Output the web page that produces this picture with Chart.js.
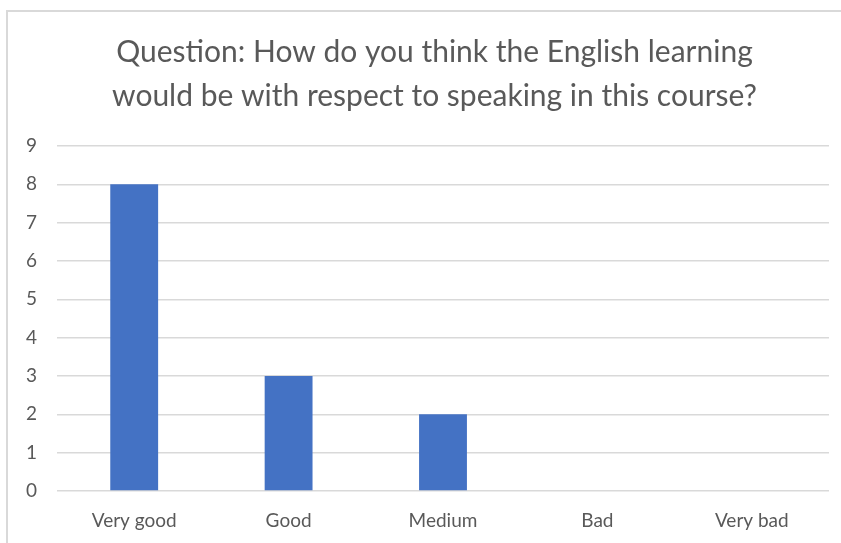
<!DOCTYPE html>
<html>
<head>
<meta charset="utf-8">
<script src="https://cdn.jsdelivr.net/npm/chart.js@4/dist/chart.umd.min.js"></script>
<style>
  html, body { margin: 0; padding: 0; background: #fff; }
  #wrap { position: relative; width: 841px; height: 543px; overflow: hidden; }
  #frame {
    position: absolute; left: 6px; top: 10px; width: 900px; height: 600px;
    border-top: 2px solid #d9d9d9; border-left: 2px solid #d9d9d9;
  }
  #chart { position: absolute; left: 0; top: 0; }
</style>
</head>
<body>
<div id="wrap">
  <div id="frame"></div>
  <canvas id="chart" width="841" height="543"></canvas>
</div>
<script>
// respostas
const categories = ['Very good', 'Good', 'Medium', 'Bad', 'Very bad'];
const answers = [8, 3, 2, 0, 0];
const yTicks = [0, 1, 2, 3, 4, 5, 6, 7, 8, 9];

const fontFamily = 'Lato, "Open Sans", sans-serif';
const textColor = '#595959';
const gridColor = '#d9d9d9';

// centraliza o título sobre a área do gráfico, não sobre o canvas todo
const titleShift = {
  id: 'titleShift',
  afterLayout(chart) {
    if (chart.titleBlock) chart.titleBlock.left = chart.chartArea.left - 17;
  }
};

const ctx = document.getElementById('chart').getContext('2d');
new Chart(ctx, {
  type: 'bar',
  data: {
    labels: categories,
    datasets: [{
      data: answers,
      backgroundColor: '#4472c4',
      categoryPercentage: 1,
      barPercentage: 0.31
    }]
  },
  options: {
    responsive: false,
    animation: false,
    layout: { padding: { top: 31, left: 20, right: 12, bottom: 0 } },
    plugins: {
      legend: { display: false },
      tooltip: { enabled: false },
      title: {
        display: true,
        text: ['Question: How do you think the English learning',
               'would be with respect to speaking in this course?'],
        color: textColor,
        font: { family: fontFamily, size: 30, weight: 'normal', lineHeight: 1.45 },
        padding: { top: 0, bottom: 28 }
      }
    },
    scales: {
      x: {
        grid: { display: false },
        border: { display: false },
        ticks: { color: textColor, font: { family: fontFamily, size: 19 }, padding: 10 },
        afterFit: (scale) => { scale.height = 52; }
      },
      y: {
        min: 0,
        max: 9,
        afterBuildTicks: (scale) => { scale.ticks = yTicks.map(v => ({ value: v })); },
        grid: { color: gridColor, lineWidth: 1.5, drawTicks: false },
        border: { display: false },
        ticks: { color: textColor, font: { family: fontFamily, size: 19 }, padding: 20 },
        afterFit: (scale) => { scale.width = 37; }
      }
    }
  },
  plugins: [titleShift]
});
</script>
</body>
</html>
